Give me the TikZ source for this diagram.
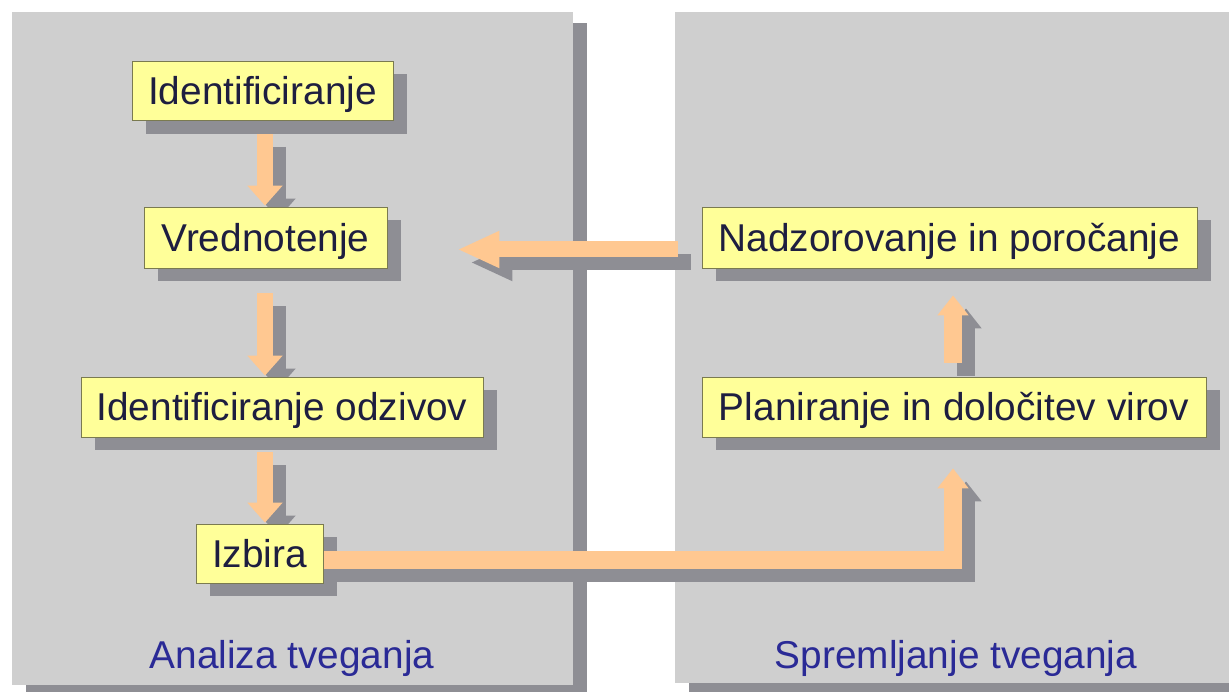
\documentclass[tikz,border=0pt]{standalone}
\usepackage{fontspec}
\setmainfont{Liberation Sans}
\usetikzlibrary{arrows.meta,calc}
\definecolor{panelc}{HTML}{CFCFCF}
\definecolor{shadc}{HTML}{8E8E94}
\definecolor{boxc}{HTML}{FFFF99}
\definecolor{boxline}{HTML}{7A7A50}
\definecolor{arrowc}{HTML}{FFC891}
\definecolor{txtc}{HTML}{1E1E40}
\definecolor{labc}{HTML}{2A2A96}
\pgfdeclarelayer{panels}
\pgfdeclarelayer{arrsh}
\pgfdeclarelayer{boxsh}
\pgfdeclarelayer{arr}
\pgfsetlayers{panels,arrsh,boxsh,arr,main}
\begin{document}
\begin{tikzpicture}[x=1pt,y=-1pt,
  stepbox/.style={draw=boxline, line width=0.8pt, fill=boxc, text=txtc, inner sep=0pt,
    minimum height=59pt, text height=27.8pt, text depth=0pt,
    font=\fontsize{38.8}{46}\selectfont},
  lab/.style={text=labc, inner sep=0pt, anchor=base, font=\fontsize{38.8}{46}\selectfont},
  flow/.style={draw=arrowc, line width=16pt, line join=miter, -{Triangle[width=34pt,length=20pt]}},
  flowsh/.style={draw=shadc, line width=16pt, line join=miter, -{Triangle[width=34pt,length=20pt]},
    transform canvas={shift={(13,13)}}},
  longtip/.style={-{Triangle[width=34pt,length=42pt]}},
  uptip/.style={line width=18pt, -{Triangle[width=30pt,length=20pt]}}]
\useasboundingbox (0,0) rectangle (1229,692);

% panels
\begin{pgfonlayer}{panels}
\fill[white] (0,0) rectangle (1229,692);
\fill[shadc] (26,23) rectangle (587,696);
\fill[panelc] (12,12) rectangle (573,685);
\fill[shadc] (689,23) rectangle (1250,696);
\fill[panelc] (675,12) rectangle (1240,683);
\end{pgfonlayer}

% boxes
\node[stepbox, minimum width=261pt] (ident) at (262.5,91) {Identificiranje};
\node[stepbox, minimum width=243pt, minimum height=61pt] (vred) at (265.5,237.5) {Vrednotenje};
\node[stepbox, minimum width=402pt, minimum height=60pt] (odz) at (282,407) {Identificiranje odzivov};
\node[stepbox, minimum width=127pt] (izb) at (259.5,553.5) {Izbira};
\node[stepbox, minimum width=495pt, minimum height=61pt] (nad) at (949.5,237.5) {Nadzorovanje in poročanje};
\node[stepbox, minimum width=504pt, minimum height=60pt] (plan) at (954,407) {Planiranje in določitev virov};

% labels
\node[lab] (lab1) at (292,668) {Analiza tveganja};
\node[lab] (lab2) at (956,668) {Spremljanje tveganja};

% box shadows
\begin{pgfonlayer}{boxsh}
\foreach \n in {ident,vred,odz,izb,nad,plan}
  \fill[shadc] ($(\n.south west)+(14,13)$) rectangle ($(\n.north east)+(14,13)$);
\end{pgfonlayer}

% connector coordinates
\coordinate (ax) at (265,0);
\coordinate (ux) at (953,0);
\coordinate (a1s) at ($(ident.south -| ax)+(0,13)$);
\coordinate (a1e) at ($(vred.north -| ax)+(0,-1)$);
\coordinate (a2s) at ($(vred.south -| ax)+(0,25)$);
\coordinate (a2e) at ($(odz.north -| ax)+(0,-1)$);
\coordinate (a3s) at ($(odz.south -| ax)+(0,15)$);
\coordinate (a3e) at ($(izb.north -| ax)+(0,-1)$);
\coordinate (ls) at ($(nad.west)+(-24,12)$);
\coordinate (le) at ($(vred.east)+(70,12)$);
\coordinate (us) at ($(plan.north -| ux)+(0,-14)$);
\coordinate (ue) at ($(nad.south -| ux)+(0,27)$);
\coordinate (b0) at ($(izb.east)+(0,6.5)$);
\coordinate (be) at ($(plan.south -| ux)+(0,31)$);

\begin{pgfonlayer}{arrsh}
\draw[flowsh] (a1s) -- (a1e);
\draw[flowsh] (a2s) -- (a2e);
\draw[flowsh] (a3s) -- (a3e);
\draw[flowsh, longtip] (ls) -- (le);
\draw[flowsh, uptip] (us) -- (ue);
\draw[flowsh, uptip] (b0) -- (b0 -| ux) -- (be);
\end{pgfonlayer}

\begin{pgfonlayer}{arr}
\draw[flow] (a1s) -- (a1e);
\draw[flow] (a2s) -- (a2e);
\draw[flow] (a3s) -- (a3e);
\draw[flow, longtip] (ls) -- (le);
\draw[flow, uptip] (us) -- (ue);
\draw[flow, uptip] (b0) -- (b0 -| ux) -- (be);
\end{pgfonlayer}
\end{tikzpicture}
\end{document}
